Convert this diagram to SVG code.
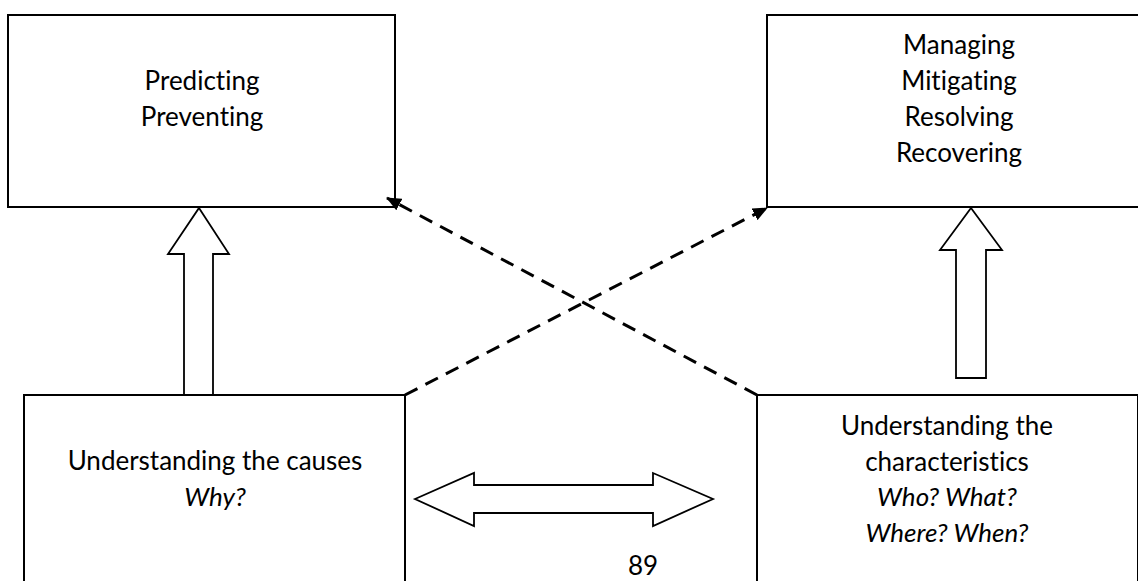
<svg xmlns="http://www.w3.org/2000/svg" width="1138" height="581" viewBox="0 0 1138 581">
<style>
.box{fill:#fff;stroke:#000;stroke-width:2}
.hollow{fill:#fff;stroke:#000;stroke-width:1.8;stroke-linejoin:miter}
.dash{fill:none;stroke:#000;stroke-width:3;stroke-dasharray:14 9}
text{font-family:Lato,"Liberation Sans",sans-serif;font-size:26px;fill:#000;text-anchor:middle;font-variant-ligatures:none;font-feature-settings:"liga" 0}
.it{font-style:italic}
</style>
<defs>
<marker id="ah" markerUnits="userSpaceOnUse" markerWidth="15" markerHeight="13" refX="14" refY="6.5" orient="auto">
<path d="M0,0 L15,6.5 L0,13 z" fill="#000"/>
</marker>
</defs>
<rect width="1138" height="581" fill="#fff"/>
<g id="node-predicting">
<rect class="box" x="8" y="15" width="387" height="192"/>
<text x="202" y="90">Predicting</text>
<text x="202" y="126">Preventing</text>
</g>
<g id="node-managing">
<rect class="box" x="767" y="15" width="384" height="192"/>
<text x="959" y="54">Managing</text>
<text x="959" y="90">Mitigating</text>
<text x="959" y="126">Resolving</text>
<text x="959" y="162">Recovering</text>
</g>
<g id="node-causes">
<rect class="box" x="24" y="395" width="381" height="220"/>
<text x="215" y="470">Understanding the causes</text>
<text x="215" y="506" class="it">Why?</text>
</g>
<g id="node-characteristics">
<rect class="box" x="757" y="395" width="381" height="220"/>
<text x="947" y="435">Understanding the</text>
<text x="947" y="471">characteristics</text>
<text x="947" y="506" class="it">Who? What?</text>
<text x="947" y="542" class="it">Where? When?</text>
</g>
<g id="connectors">
<path class="hollow" d="M199,208 L229,254 L213,254 L213,395 L184,395 L184,254 L168,254 Z"/>
<path class="hollow" d="M971,208 L1002,250 L986,250 L986,378 L956,378 L956,250 L940,250 Z"/>
<path class="hollow" d="M415,499 L474,473 L474,485 L653,485 L653,473 L713,499 L653,526 L653,513 L474,513 L474,526 Z"/>
<line class="dash" x1="405" y1="395" x2="767" y2="208" marker-end="url(#ah)"/>
<line class="dash" x1="757" y1="395" x2="387" y2="198" marker-end="url(#ah)"/>
</g>
<text x="643" y="575">89</text>
</svg>
